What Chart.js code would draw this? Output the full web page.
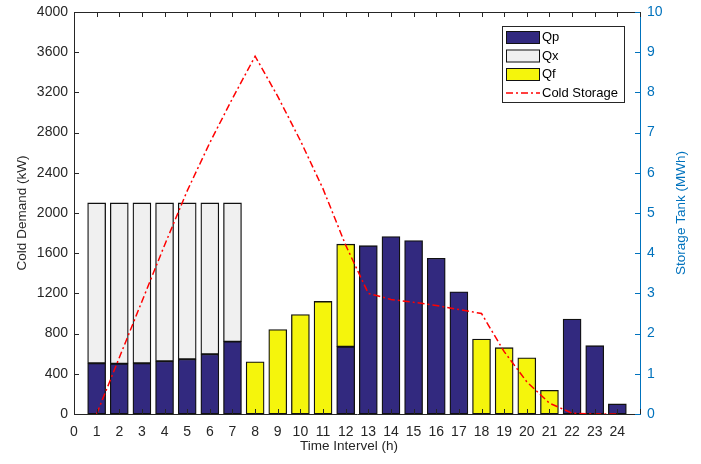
<!DOCTYPE html>
<html>
<head>
<meta charset="utf-8">
<script src="https://cdn.jsdelivr.net/npm/chart.js@4/dist/chart.umd.min.js"></script>
<style>
  body { margin: 0; background: #fff; }
  #wrap { width: 701px; height: 464px; position: relative; }
</style>
</head>
<body>
<div id="wrap"><canvas id="chart"></canvas></div>
<script>
// time intervals (h)
const intervals = [1, 2, 3, 4, 5, 6, 7, 8, 9, 10, 11, 12, 13, 14, 15, 16, 17, 18, 19, 20, 21, 22, 23, 24];
// cold demand parts (kW), null = no bar
const qp = [505, 500, 505, 525, 545, 595, 720, null, null, null, null, 670, 1675, 1765, 1725, 1550, 1215, null, null, null, null, 945, 680, 100];
const qx = [1595, 1600, 1595, 1575, 1555, 1505, 1380, null, null, null, null, null, null, null, null, null, null, null, null, null, null, null, null, null];
const qf = [null, null, null, null, null, null, null, 520, 840, 990, 1120, 1020, null, null, null, null, null, 745, 660, 560, 235, null, null, null];
// storage tank level (MWh)
const storage = [0, 1.4, 2.8, 4.2, 5.55, 6.75, 7.85, 8.9, 7.9, 6.8, 5.6, 4.2, 3.0, 2.85, 2.78, 2.7, 2.6, 2.5, 1.55, 0.8, 0.27, 0.02, 0, 0];

const textColor = '#262626';
const blue = '#0072BD';
const font = 'Liberation Sans, Arial, sans-serif';
const xTitle = 'Time Intervel (h)';
const rightTitle = 'Storage Tank (MWh)';

const toPoints = (arr) => intervals.map((x, i) => ({ x: x, y: arr[i] }));

const barStyle = {
    type: 'bar',
    borderColor: '#111',
    borderWidth: 1.3,
    borderSkipped: false,
    barThickness: 18,
    yAxisID: 'y',
    order: 1
};

// inward tick marks, top border and axis titles, MATLAB style
const boxTicks = {
    id: 'boxTicks',
    afterDraw(chart) {
        const ctx = chart.ctx;
        const a = chart.chartArea;
        const { x, y, y1 } = chart.scales;
        const len = 5;
        ctx.save();
        ctx.lineWidth = 1;
        ctx.strokeStyle = textColor;
        ctx.beginPath();
        ctx.moveTo(a.left, a.top + 0.5);
        ctx.lineTo(a.right, a.top + 0.5);
        x.ticks.forEach(t => {
            const px = Math.round(x.getPixelForValue(t.value)) + 0.5;
            ctx.moveTo(px, a.bottom);
            ctx.lineTo(px, a.bottom - len);
            ctx.moveTo(px, a.top);
            ctx.lineTo(px, a.top + len);
        });
        y.ticks.forEach(t => {
            const py = Math.round(y.getPixelForValue(t.value)) + 0.5;
            ctx.moveTo(a.left, py);
            ctx.lineTo(a.left + len, py);
        });
        ctx.stroke();
        ctx.strokeStyle = blue;
        ctx.beginPath();
        y1.ticks.forEach(t => {
            const py = Math.round(y1.getPixelForValue(t.value)) + 0.5;
            ctx.moveTo(a.right, py);
            ctx.lineTo(a.right - len, py);
        });
        ctx.stroke();

        ctx.font = '13.5px ' + font;
        ctx.textAlign = 'center';
        ctx.textBaseline = 'middle';
        ctx.fillStyle = textColor;
        ctx.fillText(xTitle, 349, 446);

        ctx.translate(681, (a.top + a.bottom) / 2);
        ctx.rotate(-Math.PI / 2);
        ctx.fillStyle = blue;
        ctx.fillText(rightTitle, 0, 0);
        ctx.restore();
    }
};

// legend box inside the plot, top right
const boxLegend = {
    id: 'boxLegend',
    afterDraw(chart) {
        const ctx = chart.ctx;
        const a = chart.chartArea;
        const w = 122, h = 76;
        const lx = a.right - 16 - w, ly = a.top + 14;
        ctx.save();
        ctx.fillStyle = '#fff';
        ctx.fillRect(lx, ly, w, h);
        ctx.strokeStyle = textColor;
        ctx.lineWidth = 1;
        ctx.strokeRect(lx + 0.5, ly + 0.5, w, h);
        ctx.font = '13px ' + font;
        ctx.textBaseline = 'middle';
        const ds = chart.data.datasets;
        [ds[0], ds[1], ds[2], ds[3]].forEach((d, i) => {
            const cy = ly + 11.5 + i * 18.5;
            if (d.type === 'bar') {
                ctx.fillStyle = d.backgroundColor;
                ctx.fillRect(lx + 4, cy - 6.5, 34, 13);
                ctx.strokeStyle = '#111';
                ctx.strokeRect(lx + 4.5, cy - 6, 33, 12);
            } else {
                ctx.strokeStyle = d.borderColor;
                ctx.lineWidth = 1.5;
                ctx.setLineDash(d.borderDash);
                ctx.beginPath();
                ctx.moveTo(lx + 4, cy);
                ctx.lineTo(lx + 38, cy);
                ctx.stroke();
                ctx.setLineDash([]);
                ctx.lineWidth = 1;
            }
            ctx.fillStyle = '#000';
            ctx.fillText(d.label, lx + 40, cy);
        });
        ctx.restore();
    }
};

const config = {
    data: {
        datasets: [
            Object.assign({}, barStyle, { label: 'Qp', data: toPoints(qp), backgroundColor: '#32297f' }),
            Object.assign({}, barStyle, { label: 'Qx', data: toPoints(qx), backgroundColor: '#f0f0f0' }),
            Object.assign({}, barStyle, { label: 'Qf', data: toPoints(qf), backgroundColor: '#f5f50c' }),
            {
                type: 'line',
                label: 'Cold Storage',
                data: toPoints(storage),
                yAxisID: 'y1',
                borderColor: '#ff0000',
                borderWidth: 1.5,
                borderDash: [7, 3, 2, 3],
                pointRadius: 0,
                tension: 0,
                order: 0
            }
        ]
    },
    options: {
        responsive: true,
        maintainAspectRatio: false,
        animation: false,
        layout: { padding: { top: 12, left: 0, right: 0, bottom: 0 } },
        plugins: { legend: { display: false }, tooltip: { enabled: false } },
        scales: {
            x: {
                type: 'linear',
                min: 0,
                max: 25,
                offset: false,
                stacked: true,
                grid: { display: false, drawTicks: false },
                border: { display: true, color: textColor },
                ticks: {
                    stepSize: 1,
                    autoSkip: false,
                    maxRotation: 0,
                    padding: 10,
                    color: textColor,
                    font: { family: font, size: 14 },
                    callback: v => (v <= 24 ? String(v) : '')
                },
                afterFit: s => { s.height = 50; s.paddingLeft = 0; s.paddingRight = 0; }
            },
            y: {
                position: 'left',
                min: 0,
                max: 4000,
                stacked: true,
                grid: { display: false, drawTicks: false },
                border: { display: true, color: textColor },
                ticks: {
                    stepSize: 400,
                    padding: 6,
                    color: textColor,
                    font: { family: font, size: 14 },
                    callback: v => String(v)
                },
                title: {
                    display: true,
                    text: 'Cold Demand (kW)',
                    color: textColor,
                    font: { family: font, size: 13.5 },
                    padding: { top: 14, bottom: 0 }
                },
                afterFit: s => { s.width = 74; s.paddingTop = 0; s.paddingBottom = 0; }
            },
            y1: {
                position: 'right',
                min: 0,
                max: 10,
                grid: { display: false, drawTicks: false },
                border: { display: true, color: blue },
                ticks: {
                    stepSize: 1,
                    padding: 7,
                    color: blue,
                    font: { family: font, size: 14 },
                    callback: v => String(v)
                },
                afterFit: s => { s.width = 61; s.paddingTop = 0; s.paddingBottom = 0; }
            }
        }
    },
    plugins: [boxTicks, boxLegend]
};

const chart = new Chart(document.getElementById('chart'), config);
</script>
</body>
</html>
